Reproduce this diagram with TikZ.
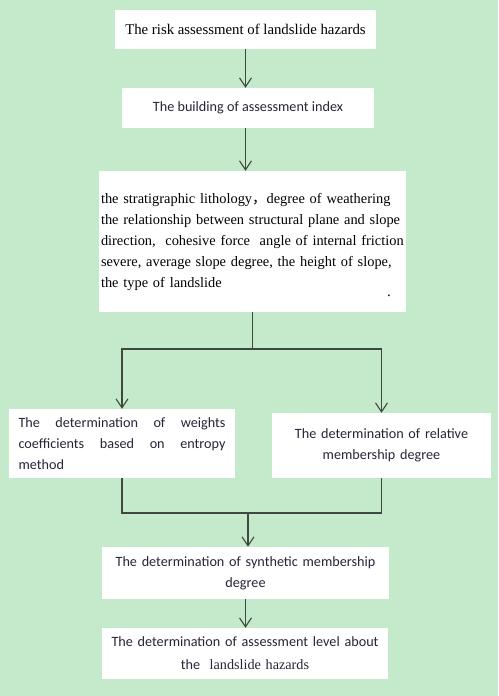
\documentclass[tikz,border=0pt]{standalone}
\usepackage{fontspec}
\setmainfont{Liberation Serif}
\newfontfamily\calibri{Carlito}
\newfontfamily\cjk{Noto Sans CJK SC}
\usetikzlibrary{arrows.meta,
                positioning}
\definecolor{sheet}{HTML}{C5E9CB}
\definecolor{wire}{HTML}{3E4A40}
\definecolor{ink}{HTML}{2A2438}
\tikzset{block/.style=
   {rectangle,
    fill=white,
    inner sep=0pt}}
\tikzset{serif-text/.style =
   {font=\fontsize{14.8}{21}\selectfont,
    text=black}}
\tikzset{sans-text/.style =
   {font=\calibri\fontsize{14.2}{21}\selectfont,
    text=ink}}
\tikzset{line/.style = {draw=wire, line width=1.1pt}}
\tikzset{arrow/.style = {line, -{Straight Barb[length=9pt,width=12pt]}}}

\begin{document}
\begin{tikzpicture}[x=1pt,y=-1pt]

    \fill [sheet] (0,0) rectangle (498,696);

    \node [block, serif-text,
           minimum width=261pt,
           minimum height=39pt] (risk) at (245.5,29.5)
          {The risk assessment of landslide hazards};

    \node [block, sans-text,
           minimum width=252pt,
           minimum height=40pt] (index) at (248,108)
          {The building of assessment index};

    \node [block, serif-text,
           font=\fontsize{14.4}{21}\selectfont,
           minimum width=307pt,
           minimum height=141pt,
           text width=303pt,
           inner xsep=2pt,
           align=left] (factors) at (252.5,241.5)
          {\mbox{the stratigraphic lithology{\cjk ，}degree of weathering}\\
           \mbox{the relationship between structural plane and slope}\\
           \mbox{direction,\ \ cohesive force\ \ angle of internal friction}\\
           \mbox{severe, average slope degree, the height of slope,}\\
           \mbox{the type of landslide}};

    \node [serif-text, anchor=base, inner sep=0pt] (speck) at (389,296) {.};

    \node [block, sans-text,
           minimum width=226pt,
           minimum height=69pt,
           text width=207pt,
           align=justify] (weights) at (122,443.5)
          {The determination of weights\linebreak
           coefficients based on entropy\linebreak
           method};

    \node [block, sans-text,
           minimum width=219pt,
           minimum height=65pt,
           text width=205pt,
           align=center] (relative) at (381.5,445.5)
          {The determination of relative\\ membership degree};

    \node [block, sans-text,
           minimum width=287pt,
           minimum height=52pt,
           text width=280pt,
           align=center] (synthetic) at (245.5,573)
          {The determination of synthetic membership\\ degree};

    \node [block, sans-text,
           font=\calibri\fontsize{14.2}{23}\selectfont,
           minimum width=286pt,
           minimum height=51pt,
           text width=280pt,
           align=center] (level) at (245,653.5)
          {The determination of assessment level about\\
           the\ \ {\rmfamily landslide hazards}};

    \coordinate (split) at (252.5,349);
    \coordinate (merge) at (248,513);

    \draw [arrow] (risk.south) -- (risk.south |- index.north);
    \draw [arrow] (risk.south |- index.south) -- (risk.south |- factors.north);
    \draw [line] (factors.south) -- (split);
    \draw [arrow] (split) -| (weights.north);
    \draw [arrow] (split) -| (relative.north);
    \draw [line] (weights.south) |- (merge);
    \draw [line] (relative.south) |- (merge);
    \draw [arrow] (merge) -- (merge |- synthetic.north);
    \draw [arrow] (synthetic.south) -- (synthetic.south |- level.north);

\end{tikzpicture}
\end{document}
